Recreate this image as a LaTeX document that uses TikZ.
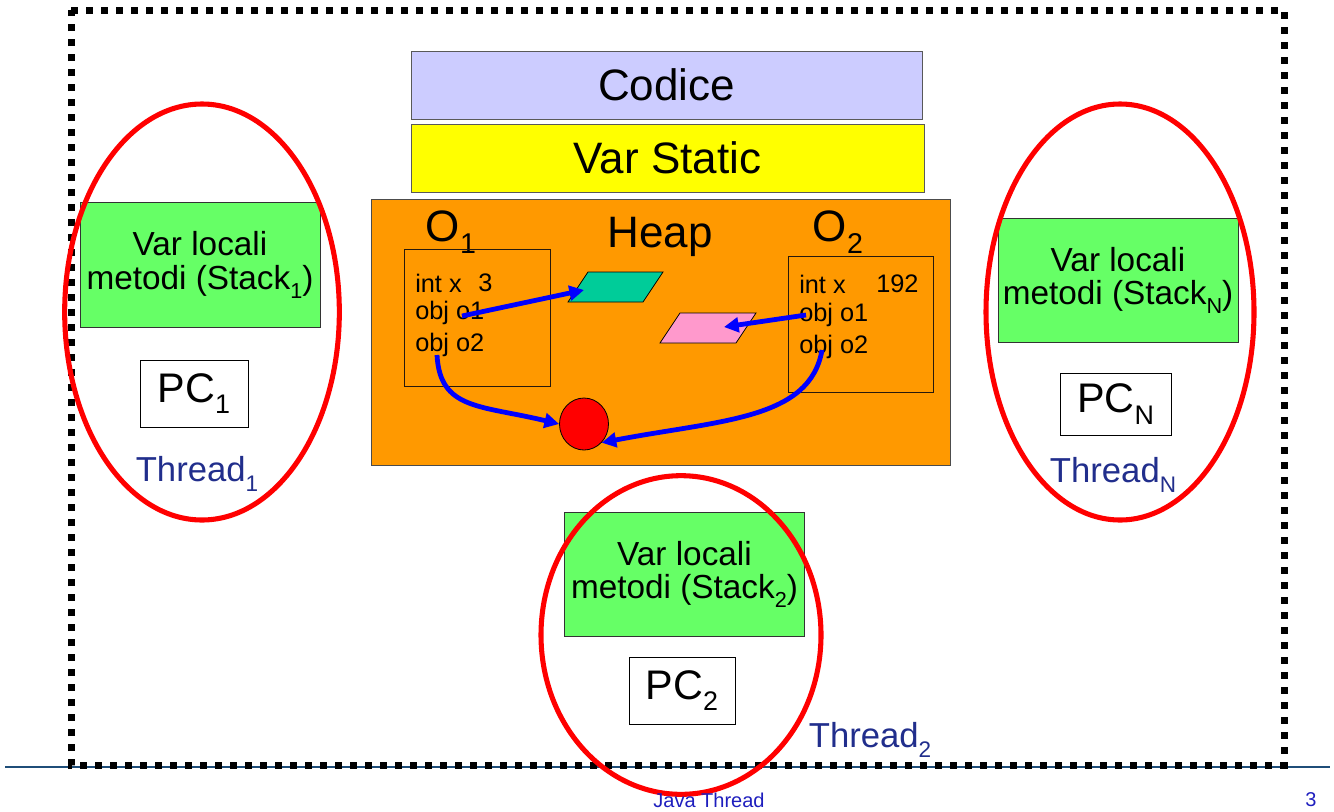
\documentclass[tikz,border=0pt]{standalone}
\usepackage{fontspec}
\setmainfont{Liberation Sans}
\usetikzlibrary{arrows.meta,shapes.geometric}
\definecolor{lav}{HTML}{CCCCFF}
\definecolor{yel}{HTML}{FFFF00}
\definecolor{org}{HTML}{FF9900}
\definecolor{grn}{HTML}{66FF66}
\definecolor{teal2}{HTML}{00CC99}
\definecolor{pnk}{HTML}{FF99CC}
\definecolor{navy2}{RGB}{33,46,140}
\definecolor{foot}{RGB}{30,30,190}
\definecolor{rule}{RGB}{31,78,121}
\newcommand{\fs}[1]{\fontsize{#1}{#1}\selectfont}
\newcommand{\sbx}[1]{\raisebox{-0.28em}{\fontsize{0.65em}{0.65em}\selectfont #1}}
\tikzset{
  px/.style={x=0.75pt,y=-0.75pt},
  bigbox/.style={draw=gray!70!black,line width=0.6pt,inner sep=0pt,font=\fs{33pt}},
  stackbox/.style={draw=black!80,line width=0.6pt,fill=grn,minimum width=180pt,minimum height=93.5pt,inner sep=0pt,align=center,font=\fs{25pt}},
  pcbox/.style={draw=black,line width=0.6pt,fill=white,inner sep=0pt,font=\fs{31pt}},
  objbox/.style={draw=black!80!brown,line width=0.6pt,inner sep=0pt},
  objtxt/.style={anchor=west,inner sep=0pt,font=\fs{19pt}},
  thr/.style={draw=red,line width=3.8pt},
  thrtxt/.style={text=navy2,inner sep=0pt,font=\fs{26pt}},
  ptr/.style={draw=blue,line width=3.6pt,-{Triangle[length=11pt,width=11pt]}},
  para/.style={draw=black,line width=0.6pt}
}
\begin{document}
\begin{tikzpicture}[px]
\useasboundingbox (0,0) rectangle (1334,811);
% footer rule
\draw[rule,line width=1.6pt] (5,767) -- (1330,767);
% dotted frame
\draw[line width=5.25pt,dash pattern=on 5.25pt off 6pt] (71,10) -- (1284,10) -- (1284,765) -- (71,765) -- cycle;
% memory areas
\node[bigbox,fill=lav,minimum width=383.25pt,minimum height=51pt] (codice) at (666.5,85) {Codice};
\node[bigbox,fill=yel,minimum width=384.75pt,minimum height=51pt] (static) at (667.5,158) {Var Static};
\node[bigbox,draw=black!70,fill=org,minimum width=434.25pt,minimum height=199.5pt] (heap) at (660.5,332) {};
\node[inner sep=0pt,font=\fs{33pt}] (heaplbl) at (660,237) {Heap};
\node[inner sep=0pt,font=\fs{33pt}] (o1lbl) at (451,232) {O\sbx{1}};
\node[inner sep=0pt,font=\fs{33pt}] (o2lbl) at (838,232) {O\sbx{2}};
\node[objbox,minimum width=109.5pt,minimum height=102.75pt] (o1) at (477,317.5) {};
\node[objbox,minimum width=108.75pt,minimum height=102pt] (o2) at (860.5,324) {};
\node[objtxt] (o1a) at (415,283) {int x};
\node[objtxt] (o1v) at (478,283) {3};
\node[objtxt] (o1b) at (415,313) {obj o1};
\node[objtxt] (o1c) at (415,345) {obj o2};
\node[objtxt] (o2a) at (799,284) {int x};
\node[objtxt] (o2v) at (876,284) {192};
\node[objtxt] (o2b) at (799,315) {obj o1};
\node[objtxt] (o2c) at (799,347) {obj o2};
% heap objects
\coordinate (ga) at (568,302);
\coordinate (gb) at (588,272);
\coordinate (gc) at (663,272);
\coordinate (gd) at (643,302);
\draw[para,fill=teal2] (ga) -- (gb) -- (gc) -- (gd) -- cycle;
\coordinate (pa) at (660,343);
\coordinate (pb) at (680,313);
\coordinate (pc) at (756,313);
\coordinate (pd) at (736,343);
\draw[para,fill=pnk] (pa) -- (pb) -- (pc) -- (pd) -- cycle;
\node[draw=black,line width=0.6pt,fill=red,ellipse,minimum width=36.75pt,minimum height=39pt,inner sep=0pt] (ball) at (584,424) {};
% references
\coordinate (s1) at (462,316);
\coordinate (t1) at (584,290);
\draw[ptr] (s1) -- (t1);
\coordinate (s2) at (806,315);
\coordinate (t2) at (724,327);
\draw[ptr] (s2) -- (t2);
\coordinate (s3) at (437,355);
\draw[ptr] (s3) .. controls (440,410) and (480,405) .. (ball.west);
\coordinate (s4) at (822,350);
\draw[ptr] (s4) .. controls (810,420) and (720,420) .. (ball.south east);
% threads
\node[stackbox] (st1) at (200,265) {Var locali\\metodi (Stack\sbx{1})};
\node[pcbox,minimum width=81pt,minimum height=50.25pt] (pc1) at (194,393.5) {PC\sbx{1}};
\node[stackbox] (stn) at (1118,280.5) {Var locali\\metodi (Stack\sbx{N})};
\node[pcbox,minimum width=83.25pt,minimum height=46.5pt] (pcn) at (1115.5,404) {PC\sbx{N}};
\node[stackbox] (st2) at (684.5,574.5) {Var locali\\metodi (Stack\sbx{2})};
\node[pcbox,minimum width=79.5pt,minimum height=50.25pt] (pc2) at (682,690.5) {PC\sbx{2}};
\node[thr,ellipse,minimum width=206pt,minimum height=312pt,inner sep=0pt] (th1) at (202,312) {};
\node[thr,ellipse,minimum width=201pt,minimum height=312pt,inner sep=0pt] (thn) at (1120,312) {};
\node[thr,ellipse,minimum width=210pt,minimum height=239pt,inner sep=0pt] (th2) at (681,635) {};
\node[thrtxt] (th1lbl) at (197,474) {Thread\sbx{1}};
\node[thrtxt] (thnlbl) at (1113,475) {Thread\sbx{N}};
\node[thrtxt] (th2lbl) at (870,740) {Thread\sbx{2}};
% footer
\node[text=foot,inner sep=0pt,font=\fs{15pt}] (ft) at (709,800) {Java Thread};
\node[text=foot,inner sep=0pt,font=\fs{15pt}] (pg) at (1311,800) {3};
\end{tikzpicture}
\end{document}
